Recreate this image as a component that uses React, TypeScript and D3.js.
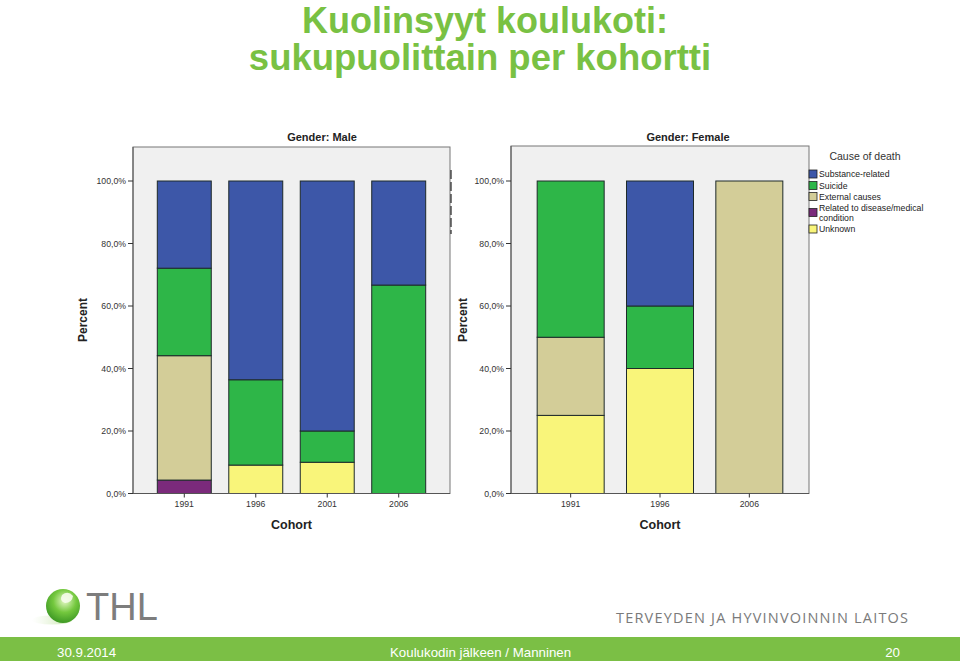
import React from "react";
import * as d3 from "d3";

const causes = ["Substance-related", "Suicide", "External causes", "Related to disease/medical condition", "Unknown"];
const causeKeys = ["substance", "suicide", "external", "disease", "unknown"];
const causeColors = ["#3d57a8", "#2eb648", "#d3cd98", "#7b2a7b", "#f9f57a"];
const stackOrder = ["unknown", "disease", "external", "suicide", "substance"];

const maleCohorts = ["1991", "1996", "2001", "2006"];
const maleSubstance = [27.9, 63.6, 80, 33.3];
const maleSuicide = [28.0, 27.3, 10, 66.7];
const maleExternal = [39.8, 0, 0, 0];
const maleDisease = [4.3, 0, 0, 0];
const maleUnknown = [0, 9.1, 10, 0];

const femaleCohorts = ["1991", "1996", "2006"];
const femaleSubstance = [0, 40, 0];
const femaleSuicide = [50, 20, 0];
const femaleExternal = [25, 0, 100];
const femaleDisease = [0, 0, 0];
const femaleUnknown = [25, 40, 0];

const yTicks = [0, 20, 40, 60, 80, 100];

const fmt = (d: number) => d.toFixed(1).replace(".", ",") + "%";
const AX = "Arial, 'Liberation Sans', sans-serif";

function build(cohorts: string[], s: number[], su: number[], e: number[], di: number[], u: number[]) {
  return cohorts.map((c, i) => ({ cohort: c, substance: s[i], suicide: su[i], external: e[i], disease: di[i], unknown: u[i] }));
}

function Panel(props: {
  rows: any[]; cohorts: string[]; x0: number; x1: number; top: number; title: string; titleX: number;
  pIn: number; pOut: number; percentX: number;
}) {
  const { rows, cohorts, x0, x1, top, title, titleX, pIn, pOut, percentX } = props;
  const y = d3.scaleLinear().domain([0, 100]).range([493.5, 181]);
  const x = d3.scaleBand().domain(cohorts).range([x0, x1]).paddingInner(pIn).paddingOuter(pOut);
  const stacked = d3.stack<any>().keys(stackOrder)(rows);
  const bottom = y(0);
  return (
    <g>
      <text x={titleX} y={141} textAnchor="middle" fontFamily={AX} fontWeight="bold" fontSize={11} fill="#222">{title}</text>
      <rect x={x0} y={top} width={x1 - x0} height={bottom - top} fill="#f0f0f0" stroke="#777" strokeWidth={1} />
      {stacked.map((layer) => {
        const ci = causeKeys.indexOf(layer.key);
        return layer.map((d, i) =>
          d[1] - d[0] > 0 ? (
            <rect key={layer.key + i} x={x(cohorts[i])!} y={y(d[1])} width={x.bandwidth()} height={y(d[0]) - y(d[1])}
              fill={causeColors[ci]} stroke="#1e2a2a" strokeWidth={1} />
          ) : null
        );
      })}
      <line x1={x0} x2={x0} y1={top} y2={bottom} stroke="#555" />
      <line x1={x0} x2={x1} y1={bottom} y2={bottom} stroke="#555" />
      {yTicks.map((t) => (
        <g key={t}>
          <line x1={x0 - 5} x2={x0} y1={y(t)} y2={y(t)} stroke="#333" />
          <text x={x0 - 7} y={y(t) + 3} textAnchor="end" fontFamily={AX} fontSize={8.7} fill="#333">{fmt(t)}</text>
        </g>
      ))}
      {cohorts.map((c) => (
        <g key={c}>
          <line x1={x(c)! + x.bandwidth() / 2} x2={x(c)! + x.bandwidth() / 2} y1={bottom} y2={bottom + 4} stroke="#333" />
          <text x={x(c)! + x.bandwidth() / 2} y={507} textAnchor="middle" fontFamily={AX} fontSize={8.7} fill="#333">{c}</text>
        </g>
      ))}
      <text x={(x0 + x1) / 2} y={529} textAnchor="middle" fontFamily={AX} fontWeight="bold" fontSize={12.5} fill="#222">Cohort</text>
      <text transform={`translate(${percentX},320) rotate(-90)`} textAnchor="middle" fontFamily={AX} fontWeight="bold" fontSize={12} fill="#222">Percent</text>
    </g>
  );
}

export default function App() {
  const male = build(maleCohorts, maleSubstance, maleSuicide, maleExternal, maleDisease, maleUnknown);
  const female = build(femaleCohorts, femaleSubstance, femaleSuicide, femaleExternal, femaleDisease, femaleUnknown);
  const titleGreen = "#79c143";
  const legendY = [174, 185.5, 196.5, 212.5, 229];
  return (
    <svg width={960} height={661} style={{ position: "absolute", left: 0, top: 0 }}>
      <rect x={0} y={0} width={960} height={661} fill="#ffffff" />
      <text x={485} y={33} textAnchor="middle" fontFamily={AX} fontWeight="bold" fontSize={36} fill={titleGreen}>Kuolinsyyt koulukoti:</text>
      <text x={480} y={70} textAnchor="middle" fontFamily={AX} fontWeight="bold" fontSize={36.5} fill={titleGreen}>sukupuolittain per kohortti</text>

      <Panel rows={male} cohorts={maleCohorts} x0={133} x1={450} top={147} title="Gender: Male" titleX={322}
        pIn={0.245} pOut={0.34} percentX={87} />
      <line x1={451} x2={451} y1={170} y2={234} stroke="#222" strokeWidth={1.2} strokeDasharray="9 3" />
      <Panel rows={female} cohorts={femaleCohorts} x0={511} x1={809} top={146} title="Gender: Female" titleX={688}
        pIn={0.25} pOut={0.293} percentX={467} />

      <text x={865} y={160} textAnchor="middle" fontFamily={AX} fontSize={10.5} fill="#333">Cause of death</text>
      {causes.map((c, i) => (
        <g key={c}>
          <rect x={809} y={legendY[i] - 4} width={8} height={8} fill={causeColors[i]} stroke="#222" strokeWidth={0.8} />
          {i === 3 ? (
            <text fontFamily={AX} fontSize={8.7} fill="#222">
              <tspan x={819} y={211}>Related to disease/medical</tspan>
              <tspan x={819} y={220.5}>condition</tspan>
            </text>
          ) : (
            <text x={819} y={legendY[i] + 3} fontFamily={AX} fontSize={8.7} fill="#222">{c}</text>
          )}
        </g>
      ))}

      <defs>
        <radialGradient id="ball" cx="0.55" cy="0.35" r="0.75">
          <stop offset="0" stopColor="#e6f9c8" />
          <stop offset="0.45" stopColor="#74c83e" />
          <stop offset="1" stopColor="#2c8a1c" />
        </radialGradient>
        <linearGradient id="shadow" x1="0" x2="1">
          <stop offset="0" stopColor="#dff0cc" stopOpacity={0} />
          <stop offset="1" stopColor="#b9df98" stopOpacity={0.9} />
        </linearGradient>
      </defs>
      <ellipse cx={52} cy={620} rx={20} ry={4.5} fill="url(#shadow)" />
      <circle cx={63} cy={606} r={17} fill="url(#ball)" />
      <path d="M62,595 q6,-5 11,1 q-1,7 -8,7 q-6,-2 -3,-8 Z" fill="#f6fcec" opacity={0.9} />
      <text x={86} y={620} fontFamily="'Liberation Sans', Arial, sans-serif" fontSize={38} fill="#7d7d7d">THL</text>
      <text x={616} y={623} fontFamily="'Open Sans', 'Noto Sans', sans-serif" fontSize={14.5} fill="#7a7a7a" letterSpacing={1.2}>TERVEYDEN JA HYVINVOINNIN LAITOS</text>

      <rect x={0} y={637} width={960} height={24} fill="#7bbf45" />
      <text x={57} y={657} fontFamily={AX} fontSize={13.3} fill="#ffffff">30.9.2014</text>
      <text x={390} y={657} fontFamily={AX} fontSize={13.3} fill="#ffffff">Koulukodin jälkeen / Manninen</text>
      <text x={900} y={657} textAnchor="end" fontFamily={AX} fontSize={13.3} fill="#ffffff">20</text>
    </svg>
  );
}
